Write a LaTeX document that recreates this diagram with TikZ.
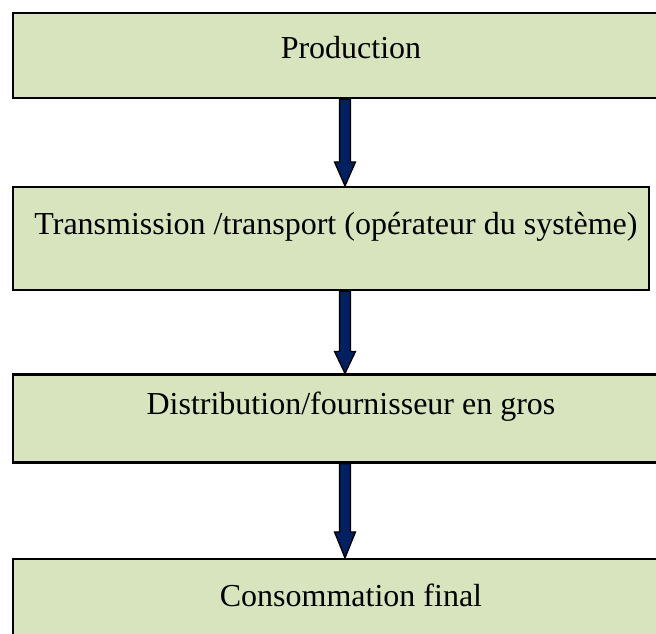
\documentclass[tikz,border=0pt]{standalone}
\usepackage{fontspec}
\setmainfont{Liberation Serif}
\usetikzlibrary{calc}
\definecolor{boxgreen}{HTML}{D7E4BD}
\definecolor{arrownavy}{HTML}{002060}
\tikzset{
  stagebox/.style={draw=black, line width=2.2pt, fill=boxgreen, rectangle, inner sep=0pt},
  stagetext/.style={anchor=base, inner sep=0pt, font=\fontsize{32}{36}\selectfont},
  flowarrow/.style={draw=black, line width=1.3pt, fill=arrownavy, line join=miter}
}
% block arrow from the bottom of one box to the top of the next
\newcommand{\blockarrow}[3]{%
  \path let \p1=(#1), \p2=(#2) in
    [flowarrow] (\x1-5.5pt,\y1) -- (\x1+5.5pt,\y1) -- (\x1+5.5pt,\y2+#3)
    -- (\x1+10.5pt,\y2+#3) -- (\x2,\y2) -- (\x1-10.5pt,\y2+#3)
    -- (\x1-5.5pt,\y2+#3) -- cycle;}
\begin{document}
\begin{tikzpicture}[x=1pt,y=-1pt]
\useasboundingbox (0,0) rectangle (656,633);
\clip (0,0) rectangle (656,633);
% stage boxes
\node[stagebox, minimum width=650, minimum height=85] (b1) at (338,55.5) {};
\node[stagebox, minimum width=636, minimum height=103] (b2) at (331,238.5) {};
\node[stagebox, minimum width=650, minimum height=88] (b3) at (338,418.5) {};
\node[stagebox, minimum width=650, minimum height=100] (b4) at (338,609) {};
% labels
\node[stagetext] (t1) at (351,58) {Production};
\node[stagetext] (t2) at (336,234) {Transmission /transport (opérateur du système)};
\node[stagetext] (t3) at (351,414) {Distribution/fournisseur en gros};
\node[stagetext] (t4) at (351,606) {Consommation final};
% connectors
\coordinate (ax) at (345,0);
\coordinate (a1s) at (b1.south -| ax);
\coordinate (a1e) at (b2.north -| ax);
\coordinate (a2s) at (b2.south -| ax);
\coordinate (a2e) at (b3.north -| ax);
\coordinate (a3s) at (b3.south -| ax);
\coordinate (a3e) at (b4.north -| ax);
\blockarrow{a1s}{a1e}{24pt}
\blockarrow{a2s}{a2e}{22pt}
\blockarrow{a3s}{a3e}{26pt}
\end{tikzpicture}
\end{document}
